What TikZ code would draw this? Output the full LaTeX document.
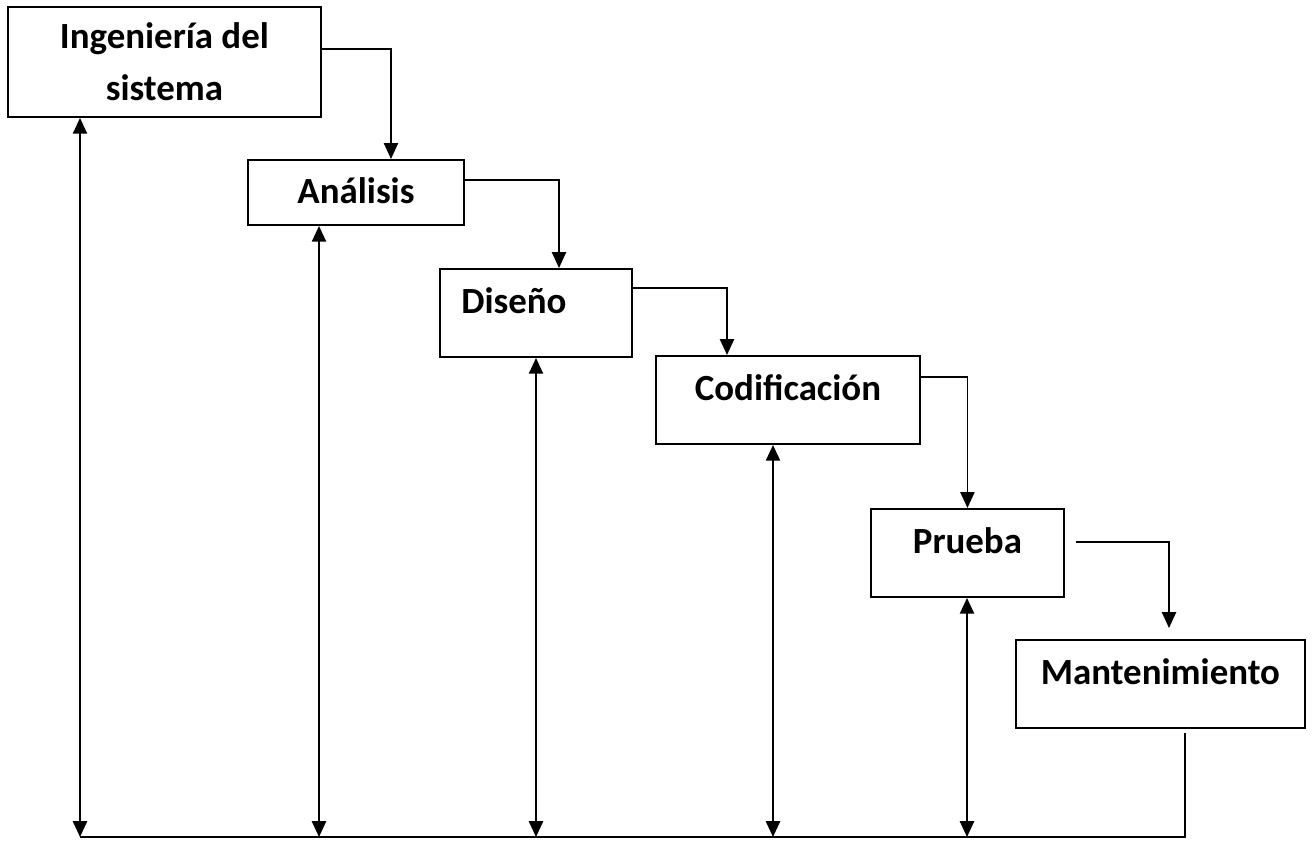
\documentclass[tikz,border=0pt]{standalone}
\usepackage{fontspec}
\setmainfont{Carlito}
\usetikzlibrary{positioning,arrows.meta,calc}

\begin{document}
\begin{tikzpicture}[
  x=0.02cm, y=-0.02cm,
  stage/.style={rectangle, draw, line width=1.1pt, inner sep=0pt, anchor=north west,
    font=\bfseries\fontsize{21}{29.5}\selectfont},
  tall/.style={text height=0.9cm, text depth=0.86cm},
  flow/.style={draw, line width=1pt, -{Triangle[length=9pt,width=8pt]}},
  feedback/.style={draw, line width=1.3pt,
    {Triangle[length=9pt,width=8pt]}-{Triangle[length=9pt,width=8pt]}},
]
  \useasboundingbox (0,0) rectangle (1312,840);

  \node[stage, align=center, minimum width=6.26cm, minimum height=2.2cm] (ing) at (7,6) {Ingeniería del\\sistema};
  \node[stage, minimum width=4.32cm, text height=0.88cm, text depth=0.42cm] (ana) at (247,159) {Análisis};
  \node[stage, tall, minimum width=3.84cm] (dis) at (439,268) {Diseño\hspace*{0.88cm}};
  \node[stage, tall, minimum width=5.28cm] (cod) at (655,355) {Codificación};
  \node[stage, tall, minimum width=3.86cm] (pru) at (870,508) {Prueba};
  \node[stage, tall, minimum width=5.78cm] (man) at (1015,639) {Mantenimiento};

  \draw[flow] ($(ing.north east)+(0,43)$) -| ($(ana.north west)+(144,0)$);
  \draw[flow] ($(ana.north east)+(0,21)$) -| ($(dis.north west)+(120,0)$);
  \draw[flow] ($(dis.north east)+(0,20)$) -| ($(cod.north west)+(72,0)$);
  \draw[flow] ($(cod.north east)+(0,22)$) -| (pru.north);
  \draw[flow] ($(pru.north east)+(11,34)$) -| ($(man.north west)+(154,-11)$);

  % return line along the bottom
  \coordinate (base) at (80,837);
  \draw[line width=1pt] ($(man.south east)+(-121,4)$) |- (base);
  \foreach \n/\dx in {ing/73, ana/72, dis/97, cod/118, pru/97}
    \draw[feedback] ($(\n.south west)+(\dx,0)$) coordinate (up) -- (up |- base);
\end{tikzpicture}
\end{document}
